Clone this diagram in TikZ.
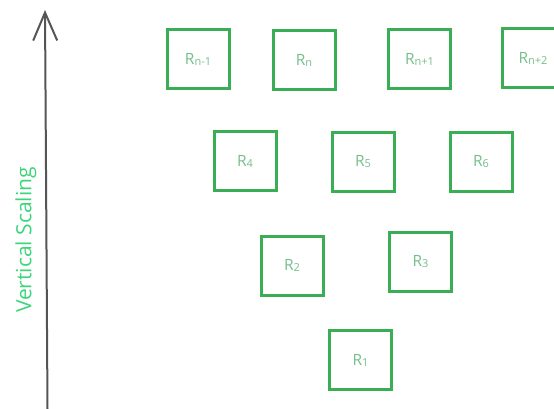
\documentclass[tikz,border=0pt]{standalone}
\usepackage{fontspec}
\setmainfont{Open Sans}
\usetikzlibrary{arrows.meta}
\definecolor{boxgreen}{HTML}{3AAE55}
\definecolor{txtgreen}{HTML}{74BE8B}
\definecolor{lblgreen}{HTML}{3DD579}
\definecolor{axisgray}{HTML}{555555}
\newcommand{\Rsub}[1]{R\raisebox{-1pt}{\fontsize{11}{11}\selectfont #1}}
\begin{document}
\begin{tikzpicture}[x=1pt,y=-1pt,
  rbox/.style={draw=boxgreen, line width=3pt, minimum width=62pt, minimum height=59pt,
    inner sep=0pt, text=txtgreen, font=\fontsize{15.5}{15.5}\selectfont},
  axis/.style={draw=axisgray, line width=2pt, -{Straight Barb[length=28pt,width=24pt,line width=2pt]}}]
\useasboundingbox (0,0) rectangle (554,409);
% axis
\coordinate (abot) at (47.5,409);
\coordinate (atop) at (45,10);
\draw[axis] (abot) -- (atop);
\node[rotate=90, text=lblgreen, font=\fontsize{21}{21}\selectfont] (lbl) at (26,240) {Vertical Scaling};
% top row
\node[rbox] (rnm1) at (198,59.5) {\Rsub{n-1}};
\node[rbox] (rn) at (304,60.5) {\Rsub{n}};
\node[rbox] (rnp1) at (419.5,59.5) {\Rsub{n+1}};
\node[rbox] (rnp2) at (533,58.5) {\Rsub{n+2}};
% second row
\node[rbox] (r4) at (245,161) {\Rsub{4}};
\node[rbox] (r5) at (363,162) {\Rsub{5}};
\node[rbox] (r6) at (481,162) {\Rsub{6}};
% third row
\node[rbox] (r2) at (292,265.5) {\Rsub{2}};
\node[rbox] (r3) at (420.5,261.5) {\Rsub{3}};
% bottom
\node[rbox] (r1) at (360.5,360) {\Rsub{1}};
\end{tikzpicture}
\end{document}
